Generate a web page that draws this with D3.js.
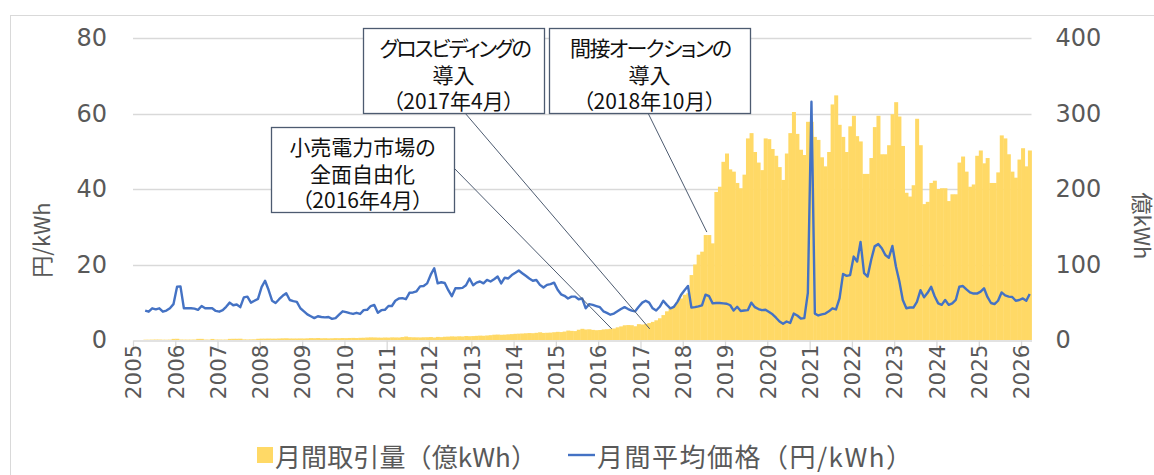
<!DOCTYPE html>
<html lang="ja">
<head>
<meta charset="utf-8">
<script src="https://cdn.jsdelivr.net/npm/d3@7"></script>
<style>
  html, body { margin: 0; padding: 0; background: #fff; }
  svg { display: block; }
  .jp { font-family: "Noto Sans CJK JP", sans-serif; }
</style>
</head>
<body>
<div id="chart"></div>
<script>
// 月次データ：2005年4月〜2026年3月
const firstMonth = { year: 2005, month: 4 };

// 月間取引量（億kWh）
const volume = [
  0.4, 0.4, 0.5, 0.6, 0.6, 0.4, 0.4, 0.5, 1.5,
  1.6, 0.6, 0.5, 0.5, 0.5, 0.6, 1.5, 1.5, 0.6, 0.5, 1.4, 0.6,
  0.6, 0.5, 0.6, 1.5, 1.6, 1.6, 1.7, 0.8, 0.7, 0.8, 0.9, 1.6,
  1.8, 1.8, 1.9, 1.8, 1.8, 2.0, 2.2, 2.3, 2.0, 2.0, 2.0, 2.1,
  2.0, 2.2, 2.5, 2.4, 2.6, 2.3, 2.4, 2.2, 2.3, 2.5, 2.4, 2.6,
  2.5, 2.7, 2.8, 2.6, 2.9, 3.0, 3.3, 3.5, 3.4, 3.2, 3.1, 3.3,
  3.2, 3.5, 3.4, 3.3, 3.9, 4.6, 3.8, 3.6, 3.5, 3.4, 3.6, 3.7,
  3.9, 3.3, 4.1, 3.8, 4.3, 4.5, 4.8, 4.6, 4.9, 4.7, 5.3, 5.0,
  5.2, 5.5, 5.8, 5.6, 6.0, 6.4, 7.0, 7.2, 6.9, 7.1, 7.5, 7.8,
  8.2, 8.4, 8.6, 8.9, 9.2, 9.0, 9.5, 10.2, 9.4, 9.6, 9.8, 10.3,
  10.8, 10.5, 11.2, 12.5, 12.1, 11.8, 13.6, 14.8, 13.9, 14.2, 13.4, 13.0,
  13.2, 14.0, 14.3, 14.8, 15.2, 16.8, 18.0, 19.5, 19.8, 19.6, 18.2, 21.0,
  20.5, 21.2, 22.4, 24.0, 26.1, 28.8, 33.0, 38.0, 42.0, 45.0, 50.0, 55.0,
  60, 62, 86, 100, 113, 117, 139, 139, 128, 196, 203, 236,
  247, 226, 223, 208, 201, 219, 267, 274, 249, 235, 225, 267,
  266, 253, 244, 229, 212, 247, 274, 302, 273, 252, 245, 289,
  289, 269, 265, 242, 230, 249, 312, 324, 285, 269, 249, 283,
  297, 270, 263, 220, 220, 241, 282, 297, 246, 246, 258, 299,
  315, 296, 257, 195, 190, 205, 293, 258, 180, 183, 208, 211,
  200, 201, 201, 184, 193, 193, 235, 243, 223, 203, 206, 244,
  251, 234, 241, 208, 208, 222, 271, 267, 246, 223, 215, 239,
  254, 230, 251
];

// 月間平均価格（円/kWh）
const price = [
  7.8, 7.5, 8.4, 8.1, 8.4, 7.5, 7.8, 8.4, 9.5,
  14.1, 14.2, 8.4, 8.4, 8.4, 8.3, 8.0, 9.0, 8.4, 8.4, 8.4, 7.7,
  7.5, 7.9, 8.8, 9.9, 9.2, 9.4, 8.7, 11.3, 11.5, 9.9, 10.4, 10.9,
  14.0, 15.7, 13.3, 10.4, 9.8, 10.8, 11.7, 12.4, 10.6, 10.3, 10.1, 8.4,
  7.6, 6.8, 6.3, 5.8, 6.3, 6.1, 6.0, 6.1, 5.6, 5.8, 6.7, 7.6,
  7.4, 7.1, 6.9, 7.2, 6.9, 7.9, 8.0, 9.0, 9.3, 7.2, 7.9, 8.0,
  9.0, 9.0, 10.4, 11.0, 11.1, 10.8, 12.5, 12.6, 12.9, 14.2, 14.3, 15.0,
  17.3, 19.0, 15.0, 15.3, 15.1, 13.2, 11.6, 13.7, 13.7, 13.8, 14.5, 16.3,
  14.5, 15.2, 15.5, 15.0, 15.9, 15.5, 16.1, 16.8, 15.0, 16.5, 16.3, 17.2,
  17.8, 18.4, 17.7, 17.0, 16.3, 15.7, 15.9, 14.6, 13.9, 14.6, 14.8, 15.2,
  13.3, 12.1, 11.7, 11.0, 11.5, 11.5, 10.8, 11.0, 8.4, 9.5, 9.3, 9.0,
  8.7, 7.6, 7.2, 6.7, 7.0, 7.6, 8.2, 8.7, 8.2, 7.8, 7.6, 8.8,
  9.9, 10.4, 9.9, 8.4, 7.8, 8.8, 10.4, 9.3, 8.4, 8.8, 10.1, 11.9,
  13.2, 14.3, 8.6, 8.7, 8.9, 9.2, 12.0, 11.6, 9.7, 9.8, 9.8, 9.7,
  9.6, 9.2, 7.8, 8.8, 7.7, 7.8, 7.9, 9.9, 8.7, 8.2, 7.9, 8.0,
  7.4, 6.8, 5.9, 4.9, 4.3, 4.9, 4.5, 7.0, 6.5, 5.7, 5.8, 12.5,
  63.1, 7.0, 6.5, 6.8, 7.0, 7.6, 8.4, 8.1, 11.0, 17.5, 17.0, 17.2,
  22.1, 20.8, 26.0, 17.7, 16.8, 21.2, 24.8, 25.4, 24.3, 22.5, 21.8, 24.9,
  19.4, 15.5, 10.6, 8.4, 8.6, 8.6, 10.1, 13.2, 11.3, 12.5, 14.1, 11.6,
  9.7, 9.3, 10.6, 9.3, 9.7, 10.6, 14.1, 14.3, 13.4, 12.6, 12.3, 12.3,
  12.8, 13.7, 11.4, 9.8, 9.5, 10.4, 12.6, 11.8, 11.5, 11.4, 10.4, 10.6,
  11.0, 10.4, 12.2
];

const priceTicks = [0, 20, 40, 60, 80];
const volumeTicks = [0, 100, 200, 300, 400];
const legendLabels = ["月間取引量（億kWh）", "月間平均価格（円/kWh）"];

// 注記（文言と指し示す位置）
const noteTexts = [
  ["小売電力市場の", "全面自由化", "（2016年4月）"],
  ["グロスビディングの", "導入", "（2017年4月）"],
  ["間接オークションの", "導入", "（2018年10月）"]
];
const noteTargets = [
  { date: new Date(2016, 3, 28), value: 14.7 },
  { date: new Date(2017, 2, 22), value: 14.7 },
  { date: new Date(2018, 6, 28), value: 143 }
];

document.addEventListener("DOMContentLoaded", () => {
  const width = 1154;
  const height = 475;
  const plotLeft = 133;
  const plotRight = 1031.5;
  const plotTop = 38;
  const plotBottom = 340;

  const blue = "#4472c4";
  const yellow = "#ffd966";
  const grey = "#595959";
  const gridColor = "#d9d9d9";
  const boxColor = "#4d5b70";

  const months = volume.map((v, i) => new Date(firstMonth.year, firstMonth.month - 1 + i, 1));
  const data = months.map((d, i) => ({
    start: d,
    end: new Date(d.getFullYear(), d.getMonth() + 1, 1),
    volume: volume[i],
    price: price[i]
  }));

  const x = d3.scaleTime()
    .domain([new Date(2005, 0, 1), new Date(2026, 3, 1)])
    .range([plotLeft, plotRight]);

  const yPrice = d3.scaleLinear().domain([0, 80]).range([plotBottom, plotTop]);
  const yVolume = d3.scaleLinear().domain([0, 400]).range([plotBottom, plotTop]);

  const svg = d3.select("#chart")
    .append("svg")
    .attr("width", width)
    .attr("height", height)
    .attr("viewBox", [0, 0, width, height]);

  // 外枠
  svg.append("rect")
    .attr("x", 10.5).attr("y", 15.5)
    .attr("width", 1300).attr("height", 600)
    .attr("fill", "none")
    .attr("stroke", gridColor);

  // 目盛線
  svg.append("g")
    .selectAll("line")
    .data(priceTicks.filter(t => t > 0))
    .join("line")
    .attr("x1", plotLeft).attr("x2", plotRight)
    .attr("y1", d => Math.round(yPrice(d)) + 0.5)
    .attr("y2", d => Math.round(yPrice(d)) + 0.5)
    .attr("stroke", gridColor)
    .attr("stroke-width", 1.3);

  // 取引量の棒
  svg.append("g")
    .attr("fill", yellow)
    .selectAll("rect")
    .data(data)
    .join("rect")
    .attr("x", d => x(d.start))
    .attr("width", d => x(d.end) - x(d.start) + 0.4)
    .attr("y", d => yVolume(d.volume))
    .attr("height", d => yVolume(0) - yVolume(d.volume));

  // X軸
  const xAxis = svg.append("g")
    .attr("transform", `translate(0,${plotBottom + 0.5})`)
    .call(d3.axisBottom(x)
      .ticks(d3.timeYear.every(1))
      .tickFormat(d3.timeFormat("%Y"))
      .tickSize(10)
      .tickSizeOuter(0));
  xAxis.select(".domain").attr("stroke", gridColor).attr("stroke-width", 1.3);
  xAxis.selectAll(".tick line").attr("stroke", gridColor).attr("stroke-width", 1.3);
  xAxis.selectAll(".tick text")
    .attr("font-family", "DejaVu Sans")
    .attr("font-size", 21.5)
    .attr("fill", grey)
    .attr("transform", "rotate(-90)")
    .attr("text-anchor", "end")
    .attr("x", -4)
    .attr("y", 0)
    .attr("dy", "0.36em");

  // 左軸（円/kWh）
  const leftAxis = svg.append("g")
    .attr("transform", `translate(${plotLeft},0)`)
    .call(d3.axisLeft(yPrice).tickValues(priceTicks).tickSize(0).tickPadding(26));
  leftAxis.select(".domain").remove();
  leftAxis.selectAll("text")
    .attr("font-family", "DejaVu Sans")
    .attr("font-size", 24)
    .attr("fill", grey);

  // 右軸（億kWh）
  const rightAxis = svg.append("g")
    .attr("transform", `translate(${plotRight},0)`)
    .call(d3.axisRight(yVolume).tickValues(volumeTicks).tickSize(0).tickPadding(24));
  rightAxis.select(".domain").remove();
  rightAxis.selectAll("text")
    .attr("font-family", "DejaVu Sans")
    .attr("font-size", 24)
    .attr("fill", grey);

  // 軸タイトル
  svg.append("text")
    .attr("class", "jp")
    .attr("transform", "translate(40,240) rotate(-90)")
    .attr("text-anchor", "middle")
    .attr("dominant-baseline", "central")
    .attr("font-size", 22)
    .attr("fill", grey)
    .text("円/kWh");

  svg.append("text")
    .attr("class", "jp")
    .attr("transform", "translate(1144,226) rotate(90)")
    .attr("text-anchor", "middle")
    .attr("dominant-baseline", "central")
    .attr("font-size", 22)
    .attr("fill", grey)
    .text("億kWh");

  // 平均価格の折れ線
  const line = d3.line()
    .x(d => x(new Date((+d.start + +d.end) / 2)))
    .y(d => yPrice(d.price));

  svg.append("path")
    .datum(data)
    .attr("fill", "none")
    .attr("stroke", blue)
    .attr("stroke-width", 2.4)
    .attr("stroke-linejoin", "round")
    .attr("d", line);

  // 注記
  const boxes = [
    { x: 271, y: 127, w: 183, h: 85, from: [454, 168], spacing: [0, 0, 0] },
    { x: 363, y: 28, w: 181, h: 85, from: [465, 113], spacing: [-2.2, 0, 0] },
    { x: 549, y: 28, w: 201, h: 85, from: [648, 113], spacing: [-1.6, 0, 0] }
  ];

  const notes = svg.append("g");
  noteTexts.forEach((lines, i) => {
    const b = boxes[i];
    const t = noteTargets[i];
    notes.append("line")
      .attr("x1", b.from[0]).attr("y1", b.from[1])
      .attr("x2", x(t.date)).attr("y2", yVolume(t.value))
      .attr("stroke", boxColor)
      .attr("stroke-width", 1);
    notes.append("rect")
      .attr("x", b.x + 0.5).attr("y", b.y + 0.5)
      .attr("width", b.w).attr("height", b.h)
      .attr("fill", "#fff")
      .attr("stroke", boxColor)
      .attr("stroke-width", 1.3);
    notes.append("g")
      .selectAll("text")
      .data(lines)
      .join("text")
      .attr("class", "jp")
      .attr("x", (d, j) => b.x + b.w / 2 - b.spacing[j] / 2)
      .attr("y", (d, j) => b.y + 19 + j * 26.5)
      .attr("text-anchor", "middle")
      .attr("dominant-baseline", "central")
      .attr("font-size", 21)
      .attr("letter-spacing", (d, j) => b.spacing[j])
      .attr("style", "font-feature-settings: 'palt'")
      .attr("fill", "#111")
      .text(d => d);
  });

  // 凡例
  const legend = svg.append("g").attr("class", "jp").attr("font-size", 26).attr("fill", grey);
  legend.append("rect")
    .attr("x", 257).attr("y", 447)
    .attr("width", 16).attr("height", 16)
    .attr("fill", yellow);
  legend.append("text")
    .attr("x", 275).attr("y", 455)
    .attr("dominant-baseline", "central")
    .attr("textLength", 262)
    .attr("lengthAdjust", "spacing")
    .text(legendLabels[0]);
  legend.append("line")
    .attr("x1", 568).attr("x2", 595)
    .attr("y1", 455).attr("y2", 455)
    .attr("stroke", blue)
    .attr("stroke-width", 2.4);
  legend.append("text")
    .attr("x", 597).attr("y", 455)
    .attr("dominant-baseline", "central")
    .attr("textLength", 315)
    .attr("lengthAdjust", "spacing")
    .text(legendLabels[1]);
});
</script>
</body>
</html>
